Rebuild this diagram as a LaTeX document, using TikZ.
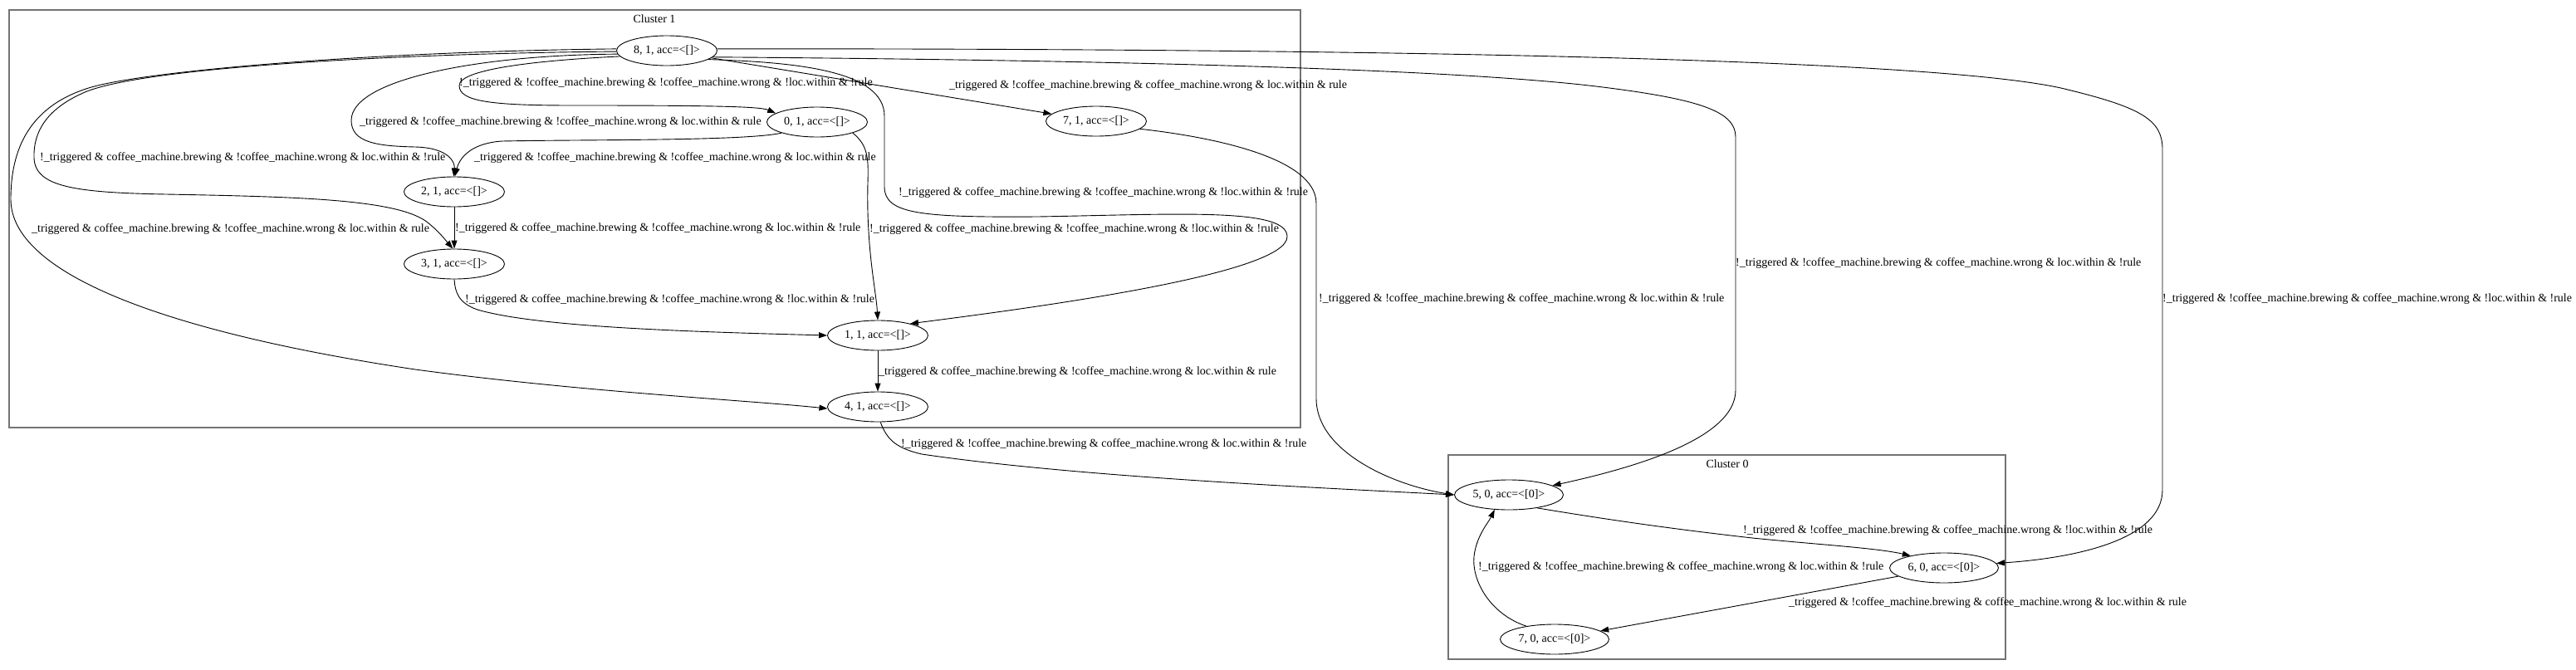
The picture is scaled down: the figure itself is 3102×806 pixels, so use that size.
\documentclass[tikz,border=0pt]{standalone}
\usepackage{fontspec}
\setmainfont{Liberation Serif}
\usetikzlibrary{arrows.meta,shapes.geometric}
\begin{document}
\begin{tikzpicture}[x=1pt,y=-1pt,
  st/.style={draw, ellipse, line width=0.9pt, minimum width=121pt, minimum height=36pt, inner sep=0pt, font=\fontsize{14}{16}\selectfont},
  stz/.style={st, minimum width=131pt},
  lbl/.style={anchor=west, inner sep=0pt, font=\fontsize{14}{16}\selectfont},
  clus/.style={draw=black!55, line width=1.5pt},
  e/.style={draw, line width=0.9pt, -{Triangle[length=10pt,width=7pt]}},
]
\useasboundingbox (0,0) rectangle (3102,806);
% clusters
\draw[clus] (11,12) rectangle (1566,515);
\node[lbl, anchor=center] (c1) at (788,23) {Cluster 1};
\draw[clus] (1744,548) rectangle (2415,794);
\node[lbl, anchor=center] (c0) at (2080,559) {Cluster 0};
% nodes
\node[st] (n81) at (803,61) {8, 1, acc=<[]>};
\node[st] (n01) at (984,147) {0, 1, acc=<[]>};
\node[st] (n71) at (1320,146) {7, 1, acc=<[]>};
\node[st] (n21) at (547,231) {2, 1, acc=<[]>};
\node[st] (n31) at (547,318) {3, 1, acc=<[]>};
\node[st] (n11) at (1057,404) {1, 1, acc=<[]>};
\node[st] (n41) at (1057,490) {4, 1, acc=<[]>};
\node[stz] (n50) at (1817,596) {5, 0, acc=<[0]>};
\node[stz] (n60) at (2341,684) {6, 0, acc=<[0]>};
\node[stz] (n70) at (1872,770) {7, 0, acc=<[0]>};
% edges
\draw[e] (n81.187) .. controls (660,72) and (553,82) .. (553,103) .. controls (553,122) and (590,127) .. (690,127) .. controls (850,127) and (915,128) .. (n01.168);
\draw[e] (n81.184) .. controls (580,66) and (423,95) .. (423,145) .. controls (423,172) and (455,176) .. (500,177) .. controls (540,178) and (548,195) .. (n21.92);
\draw[e] (n01.197) .. controls (900,170) and (700,168) .. (605,170) .. controls (570,172) and (554,188) .. (n21.88);
\draw[e] (n81.181) .. controls (500,64) and (170,80) .. (100,112) .. controls (55,132) and (40,160) .. (41,190) .. controls (42,225) and (90,232) .. (200,234) .. controls (360,237) and (480,240) .. (515,268) .. controls (530,280) and (537,290) .. (n31.95);
\draw[e] (n81.178) .. controls (450,62) and (180,85) .. (110,105) .. controls (35,127) and (13,180) .. (13,240) .. controls (13,330) and (200,400) .. (500,445) .. controls (700,472) and (900,482) .. (n41.182);
\draw[e] (n81) -- (n71);
\draw[e] (n81.-12) .. controls (960,75) and (1065,85) .. (1065,140) -- (1065,225) .. controls (1065,258) and (1110,262) .. (1250,261) .. controls (1420,258) and (1550,250) .. (1550,285) .. controls (1550,330) and (1250,370) .. (n11.20);
\draw[e] (n01.-17) .. controls (1045,175) and (1046,190) .. (1045,220) .. controls (1043,300) and (1055,350) .. (n11.north);
\draw[e] (n81.-8) .. controls (1300,72) and (1750,82) .. (1930,105) .. controls (2050,120) and (2090,135) .. (2090,165) -- (2090,470) .. controls (2090,530) and (1960,565) .. (n50.12);
\draw[e] (n81.2) .. controls (1700,58) and (2350,72) .. (2490,108) .. controls (2580,130) and (2604,145) .. (2604,180) -- (2604,590) .. controls (2604,650) and (2500,672) .. (n60.5);
\draw[e] (n71.-10) .. controls (1460,165) and (1585,190) .. (1585,245) -- (1585,480) .. controls (1585,545) and (1680,585) .. (n50.west);
\draw[e] (n41.-80) .. controls (1068,530) and (1080,540) .. (1110,547) .. controls (1300,575) and (1600,588) .. (n50.west);
\draw[e] (n11) -- (n41);
\draw[e] (n21) -- (n31);
\draw[e] (n31.south) .. controls (548,352) and (552,365) .. (575,373) .. controls (650,395) and (850,400) .. (n11.west);
\draw[e] (n50.-25) .. controls (1960,630) and (2040,640) .. (2110,648) .. controls (2190,656) and (2260,660) .. (n60.160);
\draw[e] (n60) -- (n70);
\draw[e] (n70.155) .. controls (1795,740) and (1772,700) .. (1775,670) .. controls (1778,645) and (1792,630) .. (n50.-134);
% labels
\node[lbl] (l1) at (553,100) {!\_triggered \& !coffee\_machine.brewing \& !coffee\_machine.wrong \& !loc.within \& !rule};
\node[lbl] (l2) at (433,147) {\_triggered \& !coffee\_machine.brewing \& !coffee\_machine.wrong \& loc.within \& rule};
\node[lbl] (l3) at (571,190) {\_triggered \& !coffee\_machine.brewing \& !coffee\_machine.wrong \& loc.within \& rule};
\node[lbl] (l4) at (48,190) {!\_triggered \& coffee\_machine.brewing \& !coffee\_machine.wrong \& loc.within \& !rule};
\node[lbl] (l5) at (38,276) {\_triggered \& coffee\_machine.brewing \& !coffee\_machine.wrong \& loc.within \& rule};
\node[lbl] (l6) at (548,275) {!\_triggered \& coffee\_machine.brewing \& !coffee\_machine.wrong \& loc.within \& !rule};
\node[lbl] (l7) at (1047,276) {!\_triggered \& coffee\_machine.brewing \& !coffee\_machine.wrong \& !loc.within \& !rule};
\node[lbl] (l8) at (1082,232) {!\_triggered \& coffee\_machine.brewing \& !coffee\_machine.wrong \& !loc.within \& !rule};
\node[lbl] (l9) at (560,361) {!\_triggered \& coffee\_machine.brewing \& !coffee\_machine.wrong \& !loc.within \& !rule};
\node[lbl] (l10) at (1143,103) {\_triggered \& !coffee\_machine.brewing \& coffee\_machine.wrong \& loc.within \& rule};
\node[lbl] (l11) at (1058,448) {\_triggered \& coffee\_machine.brewing \& !coffee\_machine.wrong \& loc.within \& rule};
\node[lbl] (l12) at (1085,535) {!\_triggered \& !coffee\_machine.brewing \& coffee\_machine.wrong \& loc.within \& !rule};
\node[lbl] (l13) at (1588,360) {!\_triggered \& !coffee\_machine.brewing \& coffee\_machine.wrong \& loc.within \& !rule};
\node[lbl] (l14) at (2090,317) {!\_triggered \& !coffee\_machine.brewing \& coffee\_machine.wrong \& loc.within \& !rule};
\node[lbl] (l15) at (2604,360) {!\_triggered \& !coffee\_machine.brewing \& coffee\_machine.wrong \& !loc.within \& !rule};
\node[lbl] (l16) at (2099,639) {!\_triggered \& !coffee\_machine.brewing \& coffee\_machine.wrong \& !loc.within \& !rule};
\node[lbl] (l17) at (2154,726) {\_triggered \& !coffee\_machine.brewing \& coffee\_machine.wrong \& loc.within \& rule};
\node[lbl] (l18) at (1780,683) {!\_triggered \& !coffee\_machine.brewing \& coffee\_machine.wrong \& loc.within \& !rule};
\end{tikzpicture}
\end{document}
